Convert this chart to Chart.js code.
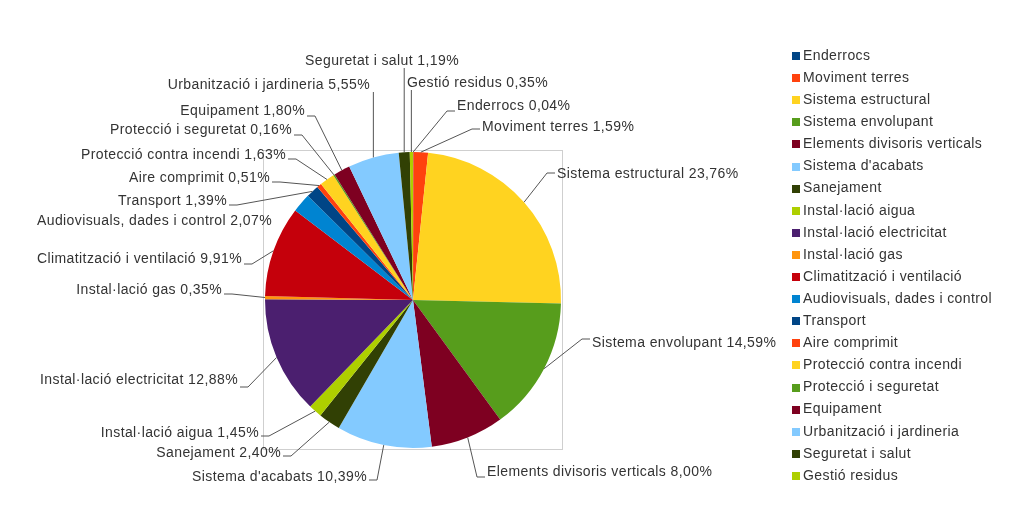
<!DOCTYPE html>
<html>
<head>
<meta charset="utf-8">
<script src="https://cdn.jsdelivr.net/npm/chart.js@4"></script>
<style>
  html, body { margin: 0; padding: 0; background: #fff; }
  #wrap { width: 1024px; height: 522px; }
</style>
</head>
<body>
<div id="wrap"><canvas id="pie_chart" width="1024" height="522"></canvas></div>
<script>
// Cost breakdown by chapter (%)
const categories = [
  'Enderrocs', 'Moviment terres', 'Sistema estructural', 'Sistema envolupant',
  'Elements divisoris verticals', "Sistema d'acabats", 'Sanejament', 'Instal·lació aigua',
  'Instal·lació electricitat', 'Instal·lació gas', 'Climatització i ventilació',
  'Audiovisuals, dades i control', 'Transport', 'Aire comprimit', 'Protecció contra incendi',
  'Protecció i seguretat', 'Equipament', 'Urbanització i jardineria', 'Seguretat i salut',
  'Gestió residus'
];
const percentages = [
  0.04, 1.59, 23.76, 14.59, 8.00, 10.39, 2.40, 1.45, 12.88, 0.35,
  9.91, 2.07, 1.39, 0.51, 1.63, 0.16, 1.80, 5.55, 1.19, 0.35
];
const palette = [
  '#004586', '#ff420e', '#ffd320', '#579d1c', '#7e0021', '#83caff',
  '#314004', '#aecf00', '#4b1f6f', '#ff950e', '#c5000b', '#0084d1'
];
const sliceColors = categories.map((c, i) => palette[i % palette.length]);

// where each outside label sits: [x, y, text align, leader type, leader y shift]
const labelLayout = [
  [457, 106, 'left', 'r', 5],
  [482, 127, 'left', 'r', 2],
  [557, 174, 'left', 'r', -1],
  [592, 343, 'left', 'r', -4],
  [487, 472, 'left', 'r', 5],
  [367, 477, 'right', 'l', 3],
  [281, 453, 'right', 'l', 3],
  [259, 433, 'right', 'l', 3],
  [238, 380, 'right', 'l', 7],
  [222, 290, 'right', 'l', 4],
  [242, 259, 'right', 'l', 5],
  [272, 221, 'right', 'n', 0],
  [227, 201, 'right', 'l', 4],
  [270, 178, 'right', 'l', 4],
  [286, 155, 'right', 'l', 4],
  [292, 130, 'right', 'l', 5],
  [305, 111, 'right', 'l', 5],
  [370, 85, 'right', 'u', 7],
  [459, 61, 'right', 'u', 7],
  [407, 83, 'left', 'u', 7]
];

const FONT = '14px "Liberation Sans", Arial, sans-serif';
const TEXT_COLOR = '#333';

function fmt(v) {
  return v.toFixed(2).replace('.', ',') + '%';
}

// grey frame behind the pie
const framePlugin = {
  id: 'frame',
  beforeDatasetsDraw(chart) {
    const arc = chart.getDatasetMeta(0).data[0];
    if (!arc) return;
    const ctx = chart.ctx;
    const r = arc.outerRadius;
    ctx.save();
    ctx.strokeStyle = '#cfcfcf';
    ctx.lineWidth = 1;
    ctx.strokeRect(Math.round(arc.x - r) - 1.5, Math.round(arc.y - r) - 1.5, 2 * r + 3, 2 * r + 3);
    ctx.restore();
  }
};

// outside labels with leader lines + legend on the right
const labelPlugin = {
  id: 'outLabels',
  afterDraw(chart) {
    const ctx = chart.ctx;
    const meta = chart.getDatasetMeta(0);
    ctx.save();
    ctx.font = FONT;
    ctx.letterSpacing = '0.4px';
    ctx.textBaseline = 'middle';
    meta.data.forEach((arc, i) => {
      const [tx, ty, align, kind, dy] = labelLayout[i];
      const mid = (arc.startAngle + arc.endAngle) / 2;
      const ex = arc.x + Math.cos(mid) * arc.outerRadius;
      const ey = arc.y + Math.sin(mid) * arc.outerRadius;
      ctx.strokeStyle = '#555';
      ctx.lineWidth = 1;
      ctx.beginPath();
      if (kind === 'r') {
        ctx.moveTo(ex, ey);
        ctx.lineTo(tx - 10, ty + dy);
        ctx.lineTo(tx - 2, ty + dy);
      } else if (kind === 'l') {
        ctx.moveTo(ex, ey);
        ctx.lineTo(tx + 10, ty + dy);
        ctx.lineTo(tx + 2, ty + dy);
      } else if (kind === 'u') {
        ctx.moveTo(ex, ey);
        ctx.lineTo(ex, ty + dy);
      }
      ctx.stroke();
      ctx.fillStyle = TEXT_COLOR;
      ctx.textAlign = align;
      ctx.fillText(categories[i] + ' ' + fmt(percentages[i]), tx, ty);
    });

    // legend
    ctx.textAlign = 'left';
    categories.forEach((c, i) => {
      const y = 56 + i * 22.1;
      ctx.fillStyle = sliceColors[i];
      ctx.fillRect(792, Math.round(y) - 4, 8, 8);
      ctx.fillStyle = TEXT_COLOR;
      ctx.fillText(c, 803, y);
    });
    ctx.restore();
  }
};

const ctx = document.getElementById('pie_chart').getContext('2d');
const myChart = new Chart(ctx, {
  type: 'pie',
  data: {
    labels: categories,
    datasets: [{
      data: percentages,
      backgroundColor: sliceColors,
      borderWidth: 0
    }]
  },
  options: {
    responsive: false,
    animation: false,
    radius: 148,
    layout: { padding: { left: 0, right: 198, top: 78, bottom: 0 } },
    plugins: {
      legend: { display: false },
      tooltip: { enabled: false }
    }
  },
  plugins: [framePlugin, labelPlugin]
});
</script>
</body>
</html>
